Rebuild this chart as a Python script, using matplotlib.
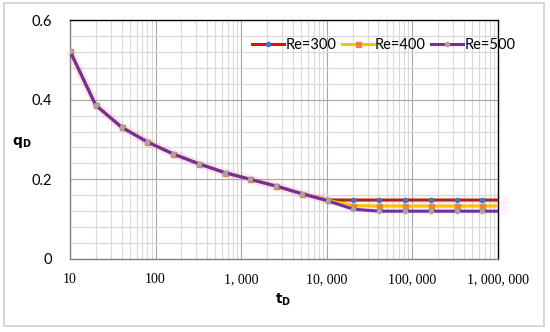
import numpy as np
import matplotlib.pyplot as plt
from matplotlib.lines import Line2D
from matplotlib.patches import Rectangle
from matplotlib.ticker import FixedLocator, LogLocator, MultipleLocator, NullFormatter

# data
t_D = [10, 20, 40, 80, 160, 320, 640, 1280, 2560, 5120, 10240,
       20480, 40960, 81920, 163840, 327680, 655360, 1310720]
q_re300 = [0.522, 0.386, 0.331, 0.294, 0.264, 0.239, 0.217, 0.200, 0.183, 0.164, 0.148,
           0.148, 0.148, 0.148, 0.148, 0.148, 0.148, 0.148]
q_re400 = [0.522, 0.386, 0.331, 0.294, 0.264, 0.239, 0.217, 0.200, 0.183, 0.164, 0.147,
           0.134, 0.133, 0.133, 0.133, 0.133, 0.133, 0.133]
q_re500 = [0.522, 0.386, 0.331, 0.294, 0.264, 0.239, 0.217, 0.200, 0.183, 0.164, 0.146,
           0.125, 0.120, 0.120, 0.120, 0.120, 0.120, 0.120]
labels = ['Re=300', 'Re=400', 'Re=500']
x_ticks = [10, 100, 1000, 10000, 100000, 1000000]
x_ticklabels = ['10', '100', '1, 000', '10, 000', '100, 000', '1, 000, 000']
y_ticks = [0, 0.2, 0.4, 0.6]
y_ticklabels = ['0', '0.2', '0.4', '0.6']

line_cols = ['#A32A14', '#FFC000', '#7030A0']
legend_cols = ['#FF0000', '#FFC000', '#7030A0']
marker_cols = ['#4472C4', '#E08A3C', '#A5A5A5']
markers = ['o', 's', 'o']
msizes = [3.0, 3.6, 3.0]

fig = plt.figure(figsize=(5.5, 3.32), dpi=100)
ax = fig.add_axes([70 / 550, 1 - 259 / 332, 428 / 550, 239 / 332])

series = [q_re300, q_re400, q_re500]
# soft pink glow under the lines
for q in series:
    ax.plot(t_D, q, color='#FF66CC', lw=6, alpha=0.06, solid_capstyle='butt',
            clip_on=False, zorder=2)
for q, lc, mc, m, ms in zip(series, line_cols, marker_cols, markers, msizes):
    ax.plot(t_D, q, color=lc, lw=2.2, marker=m, ms=ms, mfc=mc, mec=mc, zorder=3)

ax.set_xscale('log')
ax.set_xlim(10, 1000000)
ax.set_ylim(0, 0.6)

ax.xaxis.set_major_locator(FixedLocator(x_ticks))
ax.set_xticklabels(x_ticklabels, family='Liberation Serif', fontsize=10)
ax.xaxis.set_minor_locator(LogLocator(base=10, subs=np.arange(2, 10)))
ax.xaxis.set_minor_formatter(NullFormatter())
ax.yaxis.set_major_locator(FixedLocator(y_ticks))
ax.set_yticklabels(y_ticklabels, family='Lato', fontsize=10.5)
ax.yaxis.set_minor_locator(MultipleLocator(0.04))

ax.tick_params(which='both', length=0)
ax.tick_params(axis='x', pad=10)
ax.tick_params(axis='y', pad=13)

ax.grid(which='major', color='#A6A6A6', lw=0.8)
ax.grid(which='minor', color='#D9D9D9', lw=0.8)
ax.set_axisbelow(True)

for s in ['left', 'bottom']:
    ax.spines[s].set_color('#808080')
for s in ['top', 'right']:
    ax.spines[s].set_color('#000000')
for s in ax.spines.values():
    s.set_linewidth(1.0)

fig.text(22 / 550, 1 - 143 / 332, r'$\mathbf{q_D}$', ha='center', va='center', fontsize=10)
fig.text(283 / 550, 1 - 300 / 332, r'$\mathbf{t_D}$', ha='center', va='center', fontsize=10)

handles = [Line2D([], [], color=c, lw=2.2, marker=m, ms=ms, mfc=mc, mec=mc)
           for c, m, ms, mc in zip(legend_cols, markers, msizes, marker_cols)]
fig.legend(handles, labels, ncol=3, frameon=False, loc='center left',
           bbox_to_anchor=(252 / 550, 1 - 45 / 332), borderpad=0, borderaxespad=0,
           handlelength=2.2, handletextpad=0.1, columnspacing=0.35,
           prop={'family': 'Lato', 'size': 10.5})

fig.patches.append(Rectangle((4 / 550, 1 - 326 / 332), 540 / 550, 323 / 332,
                             transform=fig.transFigure, fill=False,
                             edgecolor='#D0D0D0', lw=1.2))

fig.savefig('out.png', dpi=100)
